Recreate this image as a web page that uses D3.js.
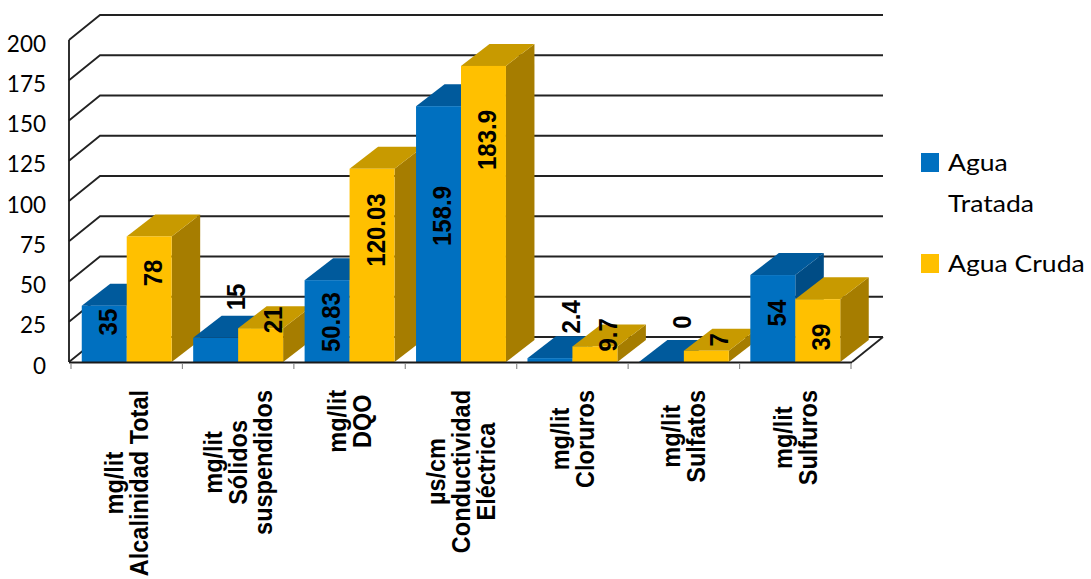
<!DOCTYPE html>
<html>
<head>
<meta charset="utf-8">
<script src="https://cdn.jsdelivr.net/npm/d3@7/dist/d3.min.js"></script>
<style>
  html, body { margin: 0; padding: 0; background: #ffffff; }
  svg { display: block; }
</style>
</head>
<body>
<svg id="chart" width="1091" height="579"></svg>
<script>
// Parameters measured on each water sample (units are part of the category name)
const categories = [
  "mg/lit\nAlcalinidad Total",
  "mg/lit\nSólidos\nsuspendidos",
  "mg/lit\nDQO",
  "µs/cm\nConductividad\nEléctrica",
  "mg/lit\nCloruros",
  "mg/lit\nSulfatos",
  "mg/lit\nSulfuros"
];
const seriesNames = ["Agua Tratada", "Agua Cruda"];
const aguaTratada = [35, 15, 50.83, 158.9, 2.4, 0, 54];
const aguaCruda   = [78, 21, 120.03, 183.9, 9.7, 7, 39];
const yTicks = [0, 25, 50, 75, 100, 125, 150, 175, 200];
// Where along the value axis each data label sits
const tratadaLabelAt = [24.8, 40.4, 24.8, 90.7, 28, 24.8, 30.4];
const crudaLabelAt   = [55.3, 26.1, 82, 137.9, 16.8, 13.7, 15.5];

const series = [aguaTratada, aguaCruda];
const labelAt = [tratadaLabelAt, crudaLabelAt];

// Faces of the 3-D boxes: front, top, side
const palette = [
  { front: "#0070C0", top: "#005A9C", side: "#004C85" },
  { front: "#FFC000", top: "#C89A00", side: "#A67D00" }
];

const svg = d3.select("#chart");

// Front plane geometry and the depth of the walls / boxes
const axisLeft = 69, axisRight = 852;
const wallDX = 31, wallDY = -25;
const boxDX = 28.5, boxDY = -22;

const y = d3.scaleLinear().domain([0, 200]).range([362, 40]);
const x = d3.scaleBand()
  .domain(d3.range(categories.length))
  .range([71, 851])
  .paddingInner(0.193)
  .paddingOuter(0.0965);
const xs = d3.scaleBand().domain([0, 1]).range([0, x.bandwidth()]);
const step = x.step();
const bandStart = i => x(i) - step * x.paddingOuter();

// ---- walls: side-wall diagonals and back-wall gridlines ----
const grid = svg.append("g").attr("fill", "none");
grid.selectAll("path.grid")
  .data(yTicks)
  .join("path")
  .attr("class", "grid")
  .attr("d", t => `M${axisLeft},${y(t)} L${axisLeft + wallDX},${y(t) + wallDY} L${axisRight + wallDX},${y(t) + wallDY}`)
  .attr("stroke", "#222")
  .attr("stroke-width", 1.8);

// floor right edge
grid.append("path")
  .attr("d", `M${axisRight},${y(0)} L${axisRight + wallDX},${y(0) + wallDY}`)
  .attr("stroke", "#222")
  .attr("stroke-width", 1.8);

// value axis line
grid.append("line")
  .attr("x1", axisLeft).attr("x2", axisLeft)
  .attr("y1", y(0)).attr("y2", y(200))
  .attr("stroke", "#1a1a1a")
  .attr("stroke-width", 1.8);

// value axis tick labels
svg.append("g")
  .selectAll("text")
  .data(yTicks)
  .join("text")
  .attr("x", 46)
  .attr("y", t => y(t) + 3)
  .attr("text-anchor", "end")
  .attr("dominant-baseline", "central")
  .attr("font-family", "Lato, 'Open Sans', sans-serif")
  .attr("font-size", 22.5)
  .attr("fill", "#000")
  .text(t => t);

// ---- bars as 3-D boxes ----
const bars = svg.append("g");
categories.forEach((c, i) => {
  series.forEach((vals, s) => {
    const v = vals[i];
    const x0 = x(i) + xs(s), w = xs.bandwidth();
    const yt = y(v), yb = y(0);
    const g = bars.append("g");
    g.append("polygon")
      .attr("points", [[x0 + w, yt], [x0 + w + boxDX, yt + boxDY], [x0 + w + boxDX, yb + boxDY], [x0 + w, yb]].join(" "))
      .attr("fill", palette[s].side);
    g.append("polygon")
      .attr("points", [[x0, yt], [x0 + boxDX, yt + boxDY], [x0 + w + boxDX, yt + boxDY], [x0 + w, yt]].join(" "))
      .attr("fill", palette[s].top);
    g.append("rect")
      .attr("x", x0).attr("y", yt)
      .attr("width", w).attr("height", yb - yt)
      .attr("fill", palette[s].front);
  });
});

// floor front edge / category axis
svg.append("line")
  .attr("x1", axisLeft).attr("x2", axisRight)
  .attr("y1", y(0) + 0.5).attr("y2", y(0) + 0.5)
  .attr("stroke", "#1a1a1a")
  .attr("stroke-width", 2);

svg.append("g")
  .selectAll("line")
  .data(d3.range(categories.length + 1))
  .join("line")
  .attr("x1", i => bandStart(0) + i * step)
  .attr("x2", i => bandStart(0) + i * step)
  .attr("y1", y(0) + 1)
  .attr("y2", y(0) + 7)
  .attr("stroke", "#8c8c8c")
  .attr("stroke-width", 1.2);

// ---- category labels, rotated, lines centred on each other ----
const catFont = { family: "'Liberation Sans', Arial, sans-serif", size: 23.5 };
const lineH = 23.5;
categories.forEach((c, i) => {
  const lines = c.split("\n");
  const cx = bandStart(i) + step / 2;
  const g = svg.append("g")
    .attr("transform", `translate(${cx},390) rotate(-90) scale(1,1.07)`)
    .attr("font-family", catFont.family)
    .attr("font-size", catFont.size)
    .attr("font-weight", "bold")
    .attr("fill", "#000");
  const texts = g.selectAll("text")
    .data(lines)
    .join("text")
    .attr("text-anchor", "middle")
    .attr("dominant-baseline", "central")
    .attr("y", (d, j) => (j - (lines.length - 1) / 2) * lineH)
    .text(d => d);
  const maxLen = d3.max(texts.nodes(), n => n.getComputedTextLength());
  texts.attr("x", -maxLen / 2);
});

// ---- value labels ----
const labels = svg.append("g")
  .attr("font-family", "'Liberation Sans', Arial, sans-serif")
  .attr("font-size", 24)
  .attr("font-weight", "bold")
  .attr("fill", "#000");
categories.forEach((c, i) => {
  series.forEach((vals, s) => {
    const v = vals[i], at = labelAt[s][i];
    const inside = at < v;
    const cx = x(i) + xs(s) + xs.bandwidth() / 2 + (inside ? 4 : (s === 0 ? 21 : 13));
    labels.append("text")
      .attr("transform", `translate(${cx},${y(at)}) rotate(-90) scale(1,1.05)`)
      .attr("text-anchor", "middle")
      .attr("dominant-baseline", "central")
      .text(String(v));
  });
});

// ---- legend ----
const legend = svg.append("g")
  .attr("font-family", "Lato, 'Open Sans', sans-serif")
  .attr("font-size", 23.5)
  .attr("fill", "#000");
const legendRows = [
  { lines: ["Agua", "Tratada"], y: 171 },
  { lines: ["Agua Cruda"], y: 272 }
];
legendRows.forEach((r, k) => {
  legend.append("rect")
    .attr("x", 921).attr("y", r.y - 18)
    .attr("width", 18).attr("height", 19)
    .attr("fill", palette[k].front);
  legend.append("text")
    .attr("transform", `translate(948,${r.y}) scale(1.13,1)`)
    .selectAll("tspan")
    .data(r.lines)
    .join("tspan")
    .attr("x", 0)
    .attr("y", (d, j) => j * 41)
    .text(d => d);
});
</script>
</body>
</html>
